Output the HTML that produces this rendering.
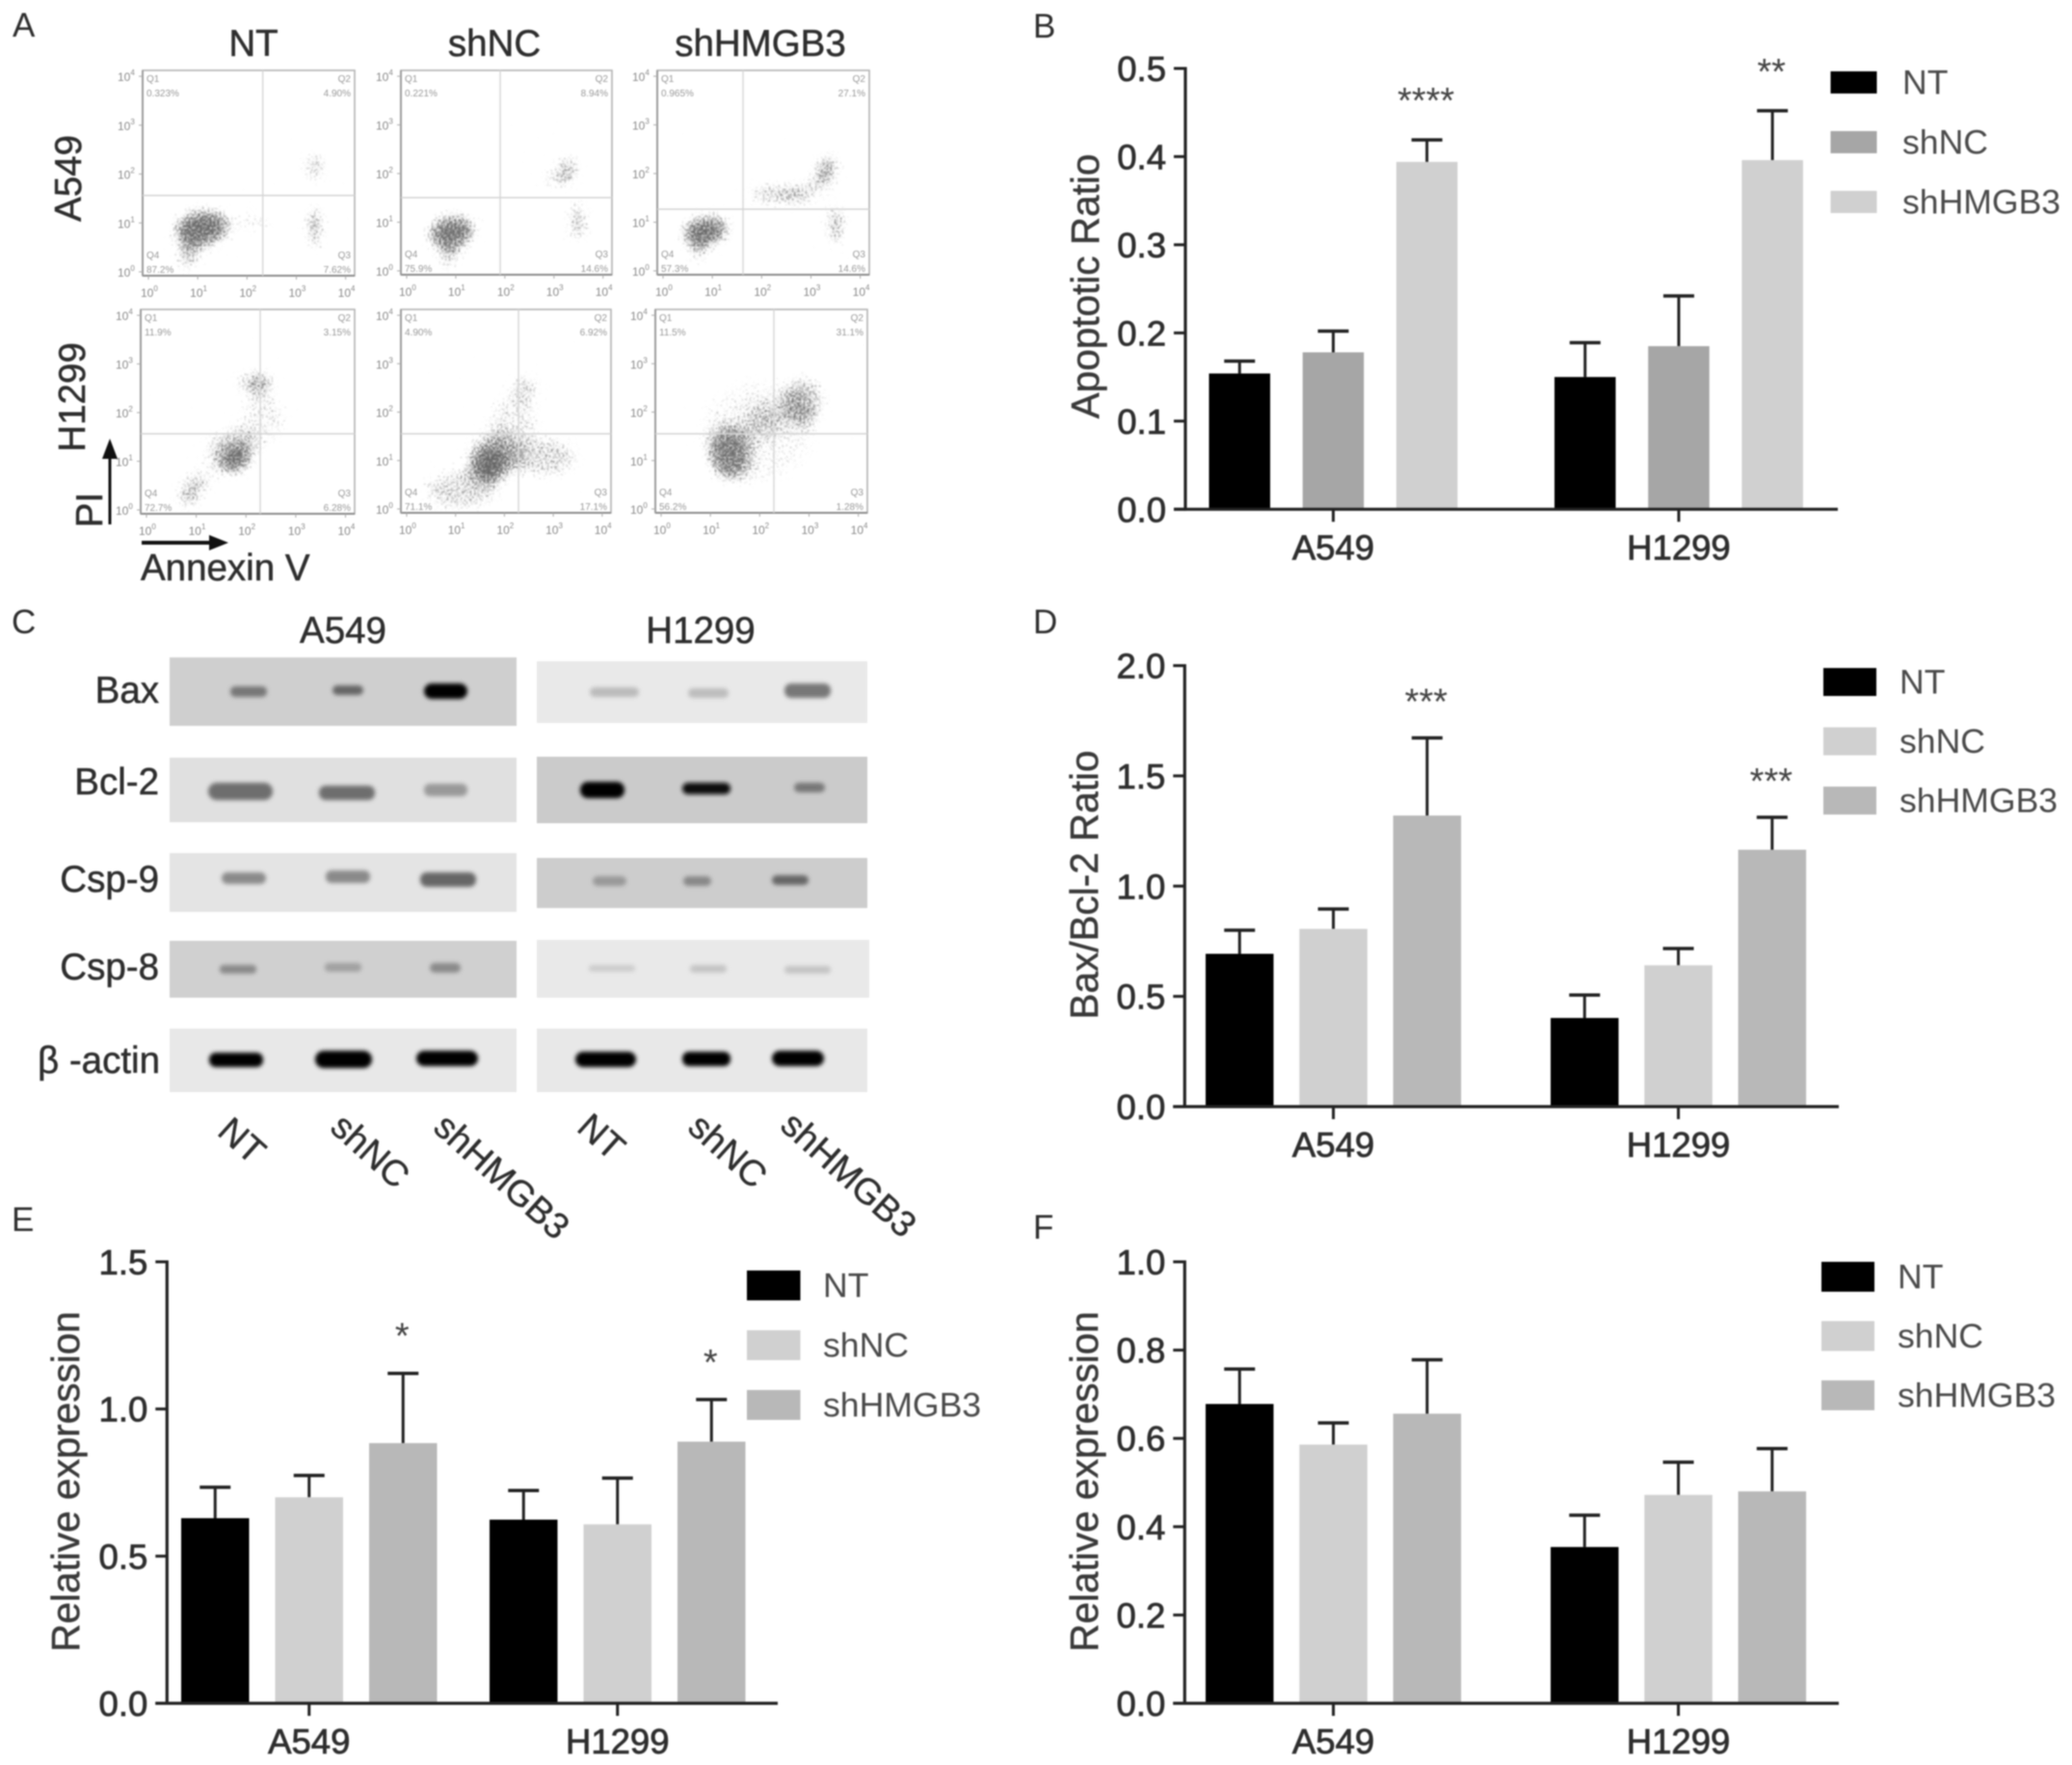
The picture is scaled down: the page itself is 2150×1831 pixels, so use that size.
<!DOCTYPE html>
<html lang="en">
<head>
<meta charset="utf-8">
<title>Apoptosis figure panels A-F</title>
<style>
html,body{margin:0;padding:0;background:#fff;width:2150px;height:1831px;overflow:hidden}
svg{display:block;filter:blur(0.8px)}
text{font-family:"Liberation Sans","DejaVu Sans",sans-serif;fill:#2e2e2e}
.tick{font-size:36.5px;stroke:#2e2e2e;stroke-width:.8px}
.ytitle{font-size:40.5px;fill:#3a3a3a;stroke:#3a3a3a;stroke-width:.5px}
.legend{font-size:35.6px;fill:#4a4a4a}
.star{font-size:38px;fill:#444}
.letter{font-size:35px}
.head{font-size:38.5px;stroke:#2e2e2e;stroke-width:.5px}
.lane{font-size:37.5px;stroke:#2e2e2e;stroke-width:.4px}
.small{font-size:10px;fill:#999}
.logt{font-size:12px;fill:#8a8a8a}
</style>
</head>
<body>
<svg id="fig" xmlns="http://www.w3.org/2000/svg" width="2150" height="1831" viewBox="0 0 2150 1831">
<defs>
<filter id="grain" x="-30%" y="-30%" width="160%" height="160%" color-interpolation-filters="sRGB">
<feGaussianBlur stdDeviation="8" result="soft"/>
<feTurbulence type="fractalNoise" baseFrequency="0.5" numOctaves="2" seed="4" result="noise"/>
<feColorMatrix in="noise" type="matrix" values="0 0 0 0 0  0 0 0 0 0  0 0 0 0 0  1 0 0 0 0" result="speck"/>
<feComposite in="soft" in2="speck" operator="arithmetic" k1="0" k2="1" k3="1" k4="-0.85" result="thresh"/>
<feComponentTransfer in="thresh" result="steep"><feFuncA type="linear" slope="2.5"/></feComponentTransfer>
<feColorMatrix in="steep" type="matrix" values="0 0 0 0 .40  0 0 0 0 .40  0 0 0 0 .40  0 0 0 1 0" result="dots"/>
<feGaussianBlur in="dots" stdDeviation="0.6"/>
</filter>
<filter id="bandBlur" x="-30%" y="-60%" width="160%" height="220%"><feGaussianBlur stdDeviation="2.2"/></filter>
</defs>
<rect x="0" y="0" width="2150" height="1831" fill="#fff"/>

<text class="letter" x="13" y="38">A</text>
<text class="letter" x="1072" y="39">B</text>
<text class="letter" x="12" y="657">C</text>
<text class="letter" x="1072" y="657">D</text>
<text class="letter" x="12" y="1277">E</text>
<text class="letter" x="1072" y="1285">F</text>

<g id="panel-a">
<text class="head" x="263" y="58" text-anchor="middle">NT</text>
<text class="head" x="513" y="58" text-anchor="middle">shNC</text>
<text class="head" x="789" y="58" text-anchor="middle">shHMGB3</text>
<text class="head" transform="translate(84,185) rotate(-90)" text-anchor="middle">A549</text>
<text class="head" transform="translate(88,412) rotate(-90)" text-anchor="middle">H1299</text>
<text class="head" transform="translate(106,529) rotate(-90)" text-anchor="middle">PI</text>
<text class="head" x="146" y="602">Annexin V</text>
<path d="M114 544V470" stroke="#111" stroke-width="3"/>
<path d="M114 455l-8 21h16z" fill="#111"/>
<path d="M147 563H222" stroke="#111" stroke-width="4"/>
<path d="M237 563l-20-8v16z" fill="#111"/>
</g>

<g id="panel-c">
<text class="head" x="356" y="667" text-anchor="middle">A549</text>
<text class="head" x="727" y="667" text-anchor="middle">H1299</text>
<text class="head" x="165" y="729" text-anchor="end">Bax</text>
<text class="head" x="165" y="824" text-anchor="end">Bcl-2</text>
<text class="head" x="165" y="925" text-anchor="end">Csp-9</text>
<text class="head" x="165" y="1016" text-anchor="end">Csp-8</text>
<text class="head" x="166" y="1113" text-anchor="end">β -actin</text>

<g transform="translate(-1,0)">
<rect x="177" y="682" width="360" height="71" fill="#cfcfcf"/>
<rect x="558" y="686" width="343" height="64" fill="#e9e9e9"/>
<rect x="177" y="786" width="360" height="67" fill="#e0e0e0"/>
<rect x="558" y="785" width="343" height="69" fill="#cbcbcb"/>
<rect x="177" y="885" width="360" height="61" fill="#e4e4e4"/>
<rect x="558" y="890" width="343" height="52" fill="#cdcdcd"/>
<rect x="177" y="976" width="360" height="59" fill="#d0d0d0"/>
<rect x="558" y="975" width="345" height="60" fill="#e9e9e9"/>
<rect x="177" y="1067" width="360" height="66" fill="#e8e8e8"/>
<rect x="558" y="1067" width="343" height="66" fill="#e8e8e8"/>
</g>
<g transform="translate(0,0)" filter="url(#bandBlur)">
<rect x="239" y="712" width="38" height="11" rx="5" fill="#777"/>
<rect x="345" y="711" width="32" height="10" rx="5" fill="#666"/>
<rect x="440" y="709" width="45" height="16" rx="8" fill="#000"/>
<rect x="612" y="713" width="51" height="10" rx="5" fill="#bbb"/>
<rect x="714" y="714" width="42" height="10" rx="5" fill="#bdbdbd"/>
<rect x="814" y="709" width="48" height="15" rx="7" fill="#777"/>
<rect x="216" y="812" width="67" height="18" rx="9" fill="#6e6e6e"/>
<rect x="331" y="815" width="58" height="15" rx="7" fill="#6e6e6e"/>
<rect x="440" y="813" width="45" height="13" rx="6" fill="#999"/>
<rect x="602" y="811" width="46" height="17" rx="8" fill="#000"/>
<rect x="708" y="812" width="50" height="12" rx="6" fill="#0a0a0a"/>
<rect x="824" y="812" width="32" height="10" rx="5" fill="#777"/>
<rect x="230" y="905" width="46" height="12" rx="6" fill="#8a8a8a"/>
<rect x="338" y="903" width="46" height="13" rx="6" fill="#8a8a8a"/>
<rect x="436" y="905" width="58" height="15" rx="7" fill="#666"/>
<rect x="615" y="909" width="35" height="10" rx="5" fill="#999"/>
<rect x="709" y="909" width="29" height="10" rx="5" fill="#888"/>
<rect x="801" y="908" width="38" height="10" rx="5" fill="#666"/>
<rect x="228" y="1001" width="38" height="9" rx="4" fill="#8a8a8a"/>
<rect x="337" y="999" width="38" height="9" rx="4" fill="#a0a0a0"/>
<rect x="446" y="999" width="32" height="10" rx="5" fill="#8a8a8a"/>
<rect x="611" y="1001" width="48" height="7" rx="3" fill="#ccc"/>
<rect x="716" y="1001" width="38" height="8" rx="4" fill="#c4c4c4"/>
<rect x="814" y="1002" width="48" height="8" rx="4" fill="#c4c4c4"/>
<rect x="217" y="1092" width="56" height="15" rx="7" fill="#000"/>
<rect x="327" y="1090" width="59" height="18" rx="9" fill="#000"/>
<rect x="432" y="1090" width="64" height="16" rx="8" fill="#000"/>
<rect x="597" y="1091" width="63" height="16" rx="8" fill="#000"/>
<rect x="708" y="1091" width="50" height="15" rx="7" fill="#000"/>
<rect x="801" y="1090" width="54" height="16" rx="8" fill="#000"/>
</g>
<text class="lane" transform="translate(224,1176) rotate(42)">NT</text>
<text class="lane" transform="translate(341,1172) rotate(42)">shNC</text>
<text class="lane" transform="translate(448,1172) rotate(42)">shHMGB3</text>
<text class="lane" transform="translate(597,1172) rotate(42)">NT</text>
<text class="lane" transform="translate(712,1172) rotate(42)">shNC</text>
<text class="lane" transform="translate(808,1170) rotate(42)">shHMGB3</text>
</g>

<g id="chart-b"></g>
<g id="chart-d"></g>
<g id="chart-e"></g>
<g id="chart-f"></g>
</svg>

<script>
// ---- Shared categories ----
const groups = ['A549', 'H1299'];
const seriesNames = ['NT', 'shNC', 'shHMGB3'];

// ---- Panel B ----
const bTicks = ['0.0', '0.1', '0.2', '0.3', '0.4', '0.5'];
const bColors = ['#000000', '#a6a6a6', '#d0d0d0'];
const bValuesA549 = [0.154, 0.178, 0.394];
const bValuesH1299 = [0.150, 0.185, 0.396];
const bErrorsA549 = [0.014, 0.024, 0.025];
const bErrorsH1299 = [0.039, 0.057, 0.056];
const bStarsA549 = ['', '', '****'];
const bStarsH1299 = ['', '', '**'];

// ---- Panel D ----
const dTicks = ['0.0', '0.5', '1.0', '1.5', '2.0'];
const dColors = ['#000000', '#d0d0d0', '#b8b8b8'];
const dValuesA549 = [0.693, 0.806, 1.32];
const dValuesH1299 = [0.402, 0.641, 1.165];
const dErrorsA549 = [0.107, 0.090, 0.352];
const dErrorsH1299 = [0.104, 0.076, 0.147];
const dStarsA549 = ['', '', '***'];
const dStarsH1299 = ['', '', '***'];

// ---- Panel E ----
const eTicks = ['0.0', '0.5', '1.0', '1.5'];
const eColors = ['#000000', '#d0d0d0', '#b8b8b8'];
const eValuesA549 = [0.629, 0.70, 0.884];
const eValuesH1299 = [0.624, 0.608, 0.889];
const eErrorsA549 = [0.105, 0.074, 0.237];
const eErrorsH1299 = [0.099, 0.157, 0.143];
const eStarsA549 = ['', '', '*'];
const eStarsH1299 = ['', '', '*'];

// ---- Panel F ----
const fTicks = ['0.0', '0.2', '0.4', '0.6', '0.8', '1.0'];
const fColors = ['#000000', '#d0d0d0', '#b8b8b8'];
const fValuesA549 = [0.678, 0.586, 0.656];
const fValuesH1299 = [0.354, 0.472, 0.480];
const fErrorsA549 = [0.079, 0.049, 0.122];
const fErrorsH1299 = [0.072, 0.074, 0.097];
const fStarsA549 = ['', '', ''];
const fStarsH1299 = ['', '', ''];

// ---- Panel A: population estimates in log10 units: [log x, log y, spread x, spread y, tilt deg, density] ----
const logTicks = [0, 1, 2, 3, 4];
const quadA549NT = ['0.323%', '4.90%', '7.62%', '87.2%'];
const quadA549shNC = ['0.221%', '8.94%', '14.6%', '75.9%'];
const quadA549shHMGB3 = ['0.965%', '27.1%', '14.6%', '57.3%'];
const quadH1299NT = ['11.9%', '3.15%', '6.28%', '72.7%'];
const quadH1299shNC = ['4.90%', '6.92%', '17.1%', '71.1%'];
const quadH1299shHMGB3 = ['11.5%', '31.1%', '1.28%', '56.2%'];
const popsA549NT = [[1.2,.97,.6,.4,-8,.72],[.91,.38,.25,.3,0,.5],[2.25,1.1,.4,.2,0,.34],[3.49,1.04,.12,.35,0,.62],[3.49,.95,.14,.6,0,.44],[3.49,2.22,.22,.32,0,.5]];
const popsA549shNC = [[1.035,.875,.52,.38,-10,.7],[.97,.32,.2,.25,0,.5],[3.6,1.1,.17,.45,0,.6],[3.4,2.16,.24,.32,0,.52],[3.13,1.96,.27,.15,0,.48]];
const popsA549shHMGB3 = [[.975,.9,.52,.33,-10,.72],[.825,.47,.15,.25,0,.55],[3.62,1.02,.17,.48,0,.62],[2.29,1.65,.5,.2,0,.5],[2.9,1.65,.35,.22,0,.52],[3.41,2.12,.24,.42,20,.6]];
const popsH1299NT = [[1.89,1.12,.22,.32,35,.66],[1.83,1.29,.55,.5,0,.44],[2.41,2.74,.22,.12,-35,.66],[2.28,2.68,.45,.25,0,.42],[2.47,1.95,.5,.55,0,.3],[.95,.36,.25,.28,0,.5],[1.18,.69,.3,.3,0,.38]];
const popsH1299shNC = [[1.83,1.03,.32,.35,40,.66],[1.89,1.15,.6,.55,0,.44],[1.23,.47,.8,.45,0,.4],[2.95,1.15,.7,.45,0,.4],[2.55,2.6,.35,.3,0,.4],[2.29,1.92,.55,.55,0,.32]];
const popsH1299shHMGB3 = [[1.5,1.22,.45,.6,0,.56],[3.0,2.31,.45,.55,0,.46],[2.07,1.68,1.2,1.1,0,.26],[2.2,1.9,.4,.4,0,.3]];

const NS = 'http://www.w3.org/2000/svg';
function mk(parent, tag, attrs, txt) {
  const el = document.createElementNS(NS, tag);
  for (const k in attrs) el.setAttribute(k, attrs[k]);
  if (txt !== undefined) el.textContent = txt;
  parent.appendChild(el);
  return el;
}

function drawBarChart(id, cfg) {
  const root = document.getElementById(id);
  const yMax = parseFloat(cfg.ticks[cfg.ticks.length - 1]);
  const yScale = v => cfg.y0 - (v / yMax) * (cfg.y0 - cfg.yTop);
  const barX = (g, s) => cfg.firstBar + g * cfg.groupGap + s * cfg.pitch;
  const values = [cfg.valuesA, cfg.valuesH];
  const errors = [cfg.errorsA, cfg.errorsH];
  const stars = [cfg.starsA, cfg.starsH];

  values.forEach((vals, g) => {
    vals.forEach((v, s) => {
      const cx = barX(g, s) + cfg.barW / 2;
      const capY = yScale(v + errors[g][s]);
      const stem = mk(root, 'line', {x1: cx, x2: cx, y1: yScale(v), y2: capY, stroke: '#222', 'stroke-width': 3});
      
      
      const cap = mk(root, 'line', {x1: cx - 16, x2: cx + 16, y1: capY, y2: capY, stroke: '#222', 'stroke-width': 3.5});
      
      
      const bar = mk(root, 'rect', {x: barX(g, s), y: yScale(v), width: cfg.barW, height: cfg.y0 - yScale(v), fill: cfg.colors[s]});
      
      
      if (stars[g][s]) {
        const st = mk(root, 'text', {class: 'star', x: cx - 1, y: capY - cfg.starGap, 'text-anchor': 'middle'}, stars[g][s]);
        
        
      }
    });
  });

  const yAxis = mk(root, 'line', {x1: cfg.axisX, x2: cfg.axisX, y1: cfg.yTop - 1.5, y2: cfg.y0 + 1.5, stroke: '#222', 'stroke-width': 3.2});
  
  
  const xAxis = mk(root, 'line', {x1: cfg.axisX - 12, x2: cfg.axisEnd, y1: cfg.y0, y2: cfg.y0, stroke: '#222', 'stroke-width': 3.2});
  
  

  cfg.ticks.forEach(t => {
    const y = yScale(parseFloat(t));
    const tk = mk(root, 'line', {x1: cfg.axisX - 12, x2: cfg.axisX, y1: y, y2: y, stroke: '#222', 'stroke-width': 3});
    
    
    const lb = mk(root, 'text', {class: 'tick', x: cfg.axisX - 20, y: y + 13, 'text-anchor': 'end'}, t);
    
    
  });

  groups.forEach((name, g) => {
    const cx = (barX(g, 1) + cfg.barW / 2);
    const tk = mk(root, 'line', {x1: cx, x2: cx, y1: cfg.y0, y2: cfg.y0 + 13, stroke: '#222', 'stroke-width': 3});
    
    
    const lb = mk(root, 'text', {class: 'tick', x: cx, y: cfg.y0 + 52, 'text-anchor': 'middle'}, name);
    
    
  });

  const title = mk(root, 'text', {class: 'ytitle', transform: 'translate(' + cfg.titleX + ',' + cfg.titleY + ') rotate(-90)', 'text-anchor': 'middle'}, cfg.title);
  
  

  seriesNames.forEach((name, s) => {
    const y = cfg.legendY + s * cfg.legendPitch;
    const sw = mk(root, 'rect', {x: cfg.legendX, y: y, width: cfg.swatchW, height: cfg.swatchH, fill: cfg.colors[s]});
    
    
    const lb = mk(root, 'text', {class: 'legend', x: cfg.legendTextX, y: y + cfg.swatchH / 2 + 12}, name);
    
    
  });
}

drawBarChart('chart-b', {ticks: bTicks, colors: bColors, valuesA: bValuesA549, valuesH: bValuesH1299, errorsA: bErrorsA549, errorsH: bErrorsH1299, starsA: bStarsA549, starsH: bStarsH1299,
  axisX: 1230, axisEnd: 1907, y0: 528.3, yTop: 71, firstBar: 1254.5, groupGap: 358.5, pitch: 97.2, barW: 63.5, starGap: 28,
  title: 'Apoptotic Ratio', titleX: 1140, titleY: 297, legendX: 1899.5, legendY: 74, legendPitch: 62, swatchW: 48, swatchH: 23, legendTextX: 1974});
drawBarChart('chart-d', {ticks: dTicks, colors: dColors, valuesA: dValuesA549, valuesH: dValuesH1299, errorsA: dErrorsA549, errorsH: dErrorsH1299, starsA: dStarsA549, starsH: dStarsH1299,
  axisX: 1229.3, axisEnd: 1908, y0: 1148, yTop: 690.5, firstBar: 1251, groupGap: 358, pitch: 97.3, barW: 70.5, starGap: 25,
  title: 'Bax/Bcl-2 Ratio', titleX: 1139, titleY: 918, legendX: 1892, legendY: 693, legendPitch: 61.5, swatchW: 55, swatchH: 29, legendTextX: 1971});
drawBarChart('chart-e', {ticks: eTicks, colors: eColors, valuesA: eValuesA549, valuesH: eValuesH1299, errorsA: eErrorsA549, errorsH: eErrorsH1299, starsA: eStarsA549, starsH: eStarsH1299,
  axisX: 173.3, axisEnd: 807, y0: 1767, yTop: 1309, firstBar: 188, groupGap: 320, pitch: 97.5, barW: 70.5, starGap: 26,
  title: 'Relative expression', titleX: 82, titleY: 1537, legendX: 775, legendY: 1318, legendPitch: 62, swatchW: 55.5, swatchH: 31, legendTextX: 854});
drawBarChart('chart-f', {ticks: fTicks, colors: fColors, valuesA: fValuesA549, valuesH: fValuesH1299, errorsA: fErrorsA549, errorsH: fErrorsH1299, starsA: fStarsA549, starsH: fStarsH1299,
  axisX: 1229.3, axisEnd: 1908, y0: 1767, yTop: 1309, firstBar: 1251, groupGap: 358, pitch: 97.3, barW: 70.5, starGap: 24,
  title: 'Relative expression', titleX: 1139, titleY: 1537, legendX: 1890, legendY: 1309, legendPitch: 61.5, swatchW: 55, swatchH: 31, legendTextX: 1969});

function drawScatter(box, pops, quad) {
  const root = document.getElementById('panel-a');
  const g = mk(root, 'g', {});
  
  
  const xLog = v => box.x + (v / 4.3) * box.w;
  const yLog = v => box.y + (1 - v / 4.2) * box.h;
  const clipId = 'clip' + Math.round(box.x) + '_' + Math.round(box.y);
  const cp = mk(mk(g, 'defs', {}), 'clipPath', {id: clipId});
  mk(cp, 'rect', {x: box.x, y: box.y, width: box.w, height: box.h});
  const clip = mk(g, 'g', {'clip-path': 'url(#' + clipId + ')'});
  const cloud = mk(clip, 'g', {filter: 'url(#grain)'});
  pops.forEach(p => {
    const cx = xLog(p[0]), cy = yLog(p[1]);
    const e = mk(cloud, 'ellipse', {cx: cx, cy: cy, rx: p[2] / 4.3 * box.w, ry: p[3] / 4.2 * box.h, fill: '#000', opacity: p[5], transform: 'rotate(' + p[4] + ' ' + cx + ' ' + cy + ')'});
    
    
  });
  const frame = mk(g, 'rect', {x: box.x, y: box.y, width: box.w, height: box.h, fill: 'none', stroke: '#b5b5b5', 'stroke-width': 1.6});
  
  
  const bottom = mk(g, 'line', {x1: box.x, x2: box.x + box.w, y1: box.y + box.h, y2: box.y + box.h, stroke: '#8c8c8c', 'stroke-width': 2});
  
  
  const left = mk(g, 'line', {x1: box.x, x2: box.x, y1: box.y, y2: box.y + box.h, stroke: '#9c9c9c', 'stroke-width': 2});
  
  
  const gv = mk(g, 'line', {x1: box.gx, x2: box.gx, y1: box.y, y2: box.y + box.h, stroke: '#d8d8d8', 'stroke-width': 1.5});
  
  
  const gh = mk(g, 'line', {x1: box.x, x2: box.x + box.w, y1: box.gy, y2: box.gy, stroke: '#d4d4d4', 'stroke-width': 1.5});
  
  

  logTicks.forEach(t => {
    const tx = xLog(t) + 6, ty = yLog(t) - 4;
    const a = mk(g, 'line', {x1: tx, x2: tx, y1: box.y + box.h, y2: box.y + box.h + 4, stroke: '#aaa', 'stroke-width': 1});
    
    
    const b = mk(g, 'line', {x1: box.x - 4, x2: box.x, y1: ty, y2: ty, stroke: '#aaa', 'stroke-width': 1});
    
    
    const xl = mk(g, 'text', {class: 'logt', x: tx - 8, y: box.y + box.h + 22}, '10');
    mk(xl, 'tspan', {dy: -6, 'font-size': 8}, String(t));
    
    
    const yl = mk(g, 'text', {class: 'logt', x: box.x - 26, y: ty + 5}, '10');
    mk(yl, 'tspan', {dy: -6, 'font-size': 8}, String(t));
    
    
  });

  const q1 = mk(g, 'text', {class: 'small', x: box.x + 4, y: box.y + 12}, 'Q1');
  
  
  const v1 = mk(g, 'text', {class: 'small', x: box.x + 4, y: box.y + 27}, quad[0]);
  
  
  const q2 = mk(g, 'text', {class: 'small', x: box.x + box.w - 4, y: box.y + 12, 'text-anchor': 'end'}, 'Q2');
  
  
  const v2 = mk(g, 'text', {class: 'small', x: box.x + box.w - 4, y: box.y + 27, 'text-anchor': 'end'}, quad[1]);
  
  
  const q3 = mk(g, 'text', {class: 'small', x: box.x + box.w - 4, y: box.y + box.h - 18, 'text-anchor': 'end'}, 'Q3');
  
  
  const v3 = mk(g, 'text', {class: 'small', x: box.x + box.w - 4, y: box.y + box.h - 3, 'text-anchor': 'end'}, quad[2]);
  
  
  const q4 = mk(g, 'text', {class: 'small', x: box.x + 4, y: box.y + box.h - 18}, 'Q4');
  
  
  const v4 = mk(g, 'text', {class: 'small', x: box.x + 4, y: box.y + box.h - 3}, quad[3]);
  
  
}

drawScatter({x: 148, y: 73, w: 220, h: 213, gx: 272.7, gy: 202.7}, popsA549NT, quadA549NT);
drawScatter({x: 416, y: 73, w: 219, h: 212, gx: 519, gy: 205}, popsA549shNC, quadA549shNC);
drawScatter({x: 682, y: 73, w: 220, h: 212, gx: 771, gy: 217}, popsA549shHMGB3, quadA549shHMGB3);
drawScatter({x: 146, y: 321, w: 222, h: 212, gx: 270, gy: 450}, popsH1299NT, quadH1299NT);
drawScatter({x: 416, y: 321, w: 218, h: 211, gx: 538, gy: 450}, popsH1299shNC, quadH1299shNC);
drawScatter({x: 680, y: 321, w: 220, h: 211, gx: 803, gy: 450}, popsH1299shHMGB3, quadH1299shHMGB3);
</script>
</body>
</html>
